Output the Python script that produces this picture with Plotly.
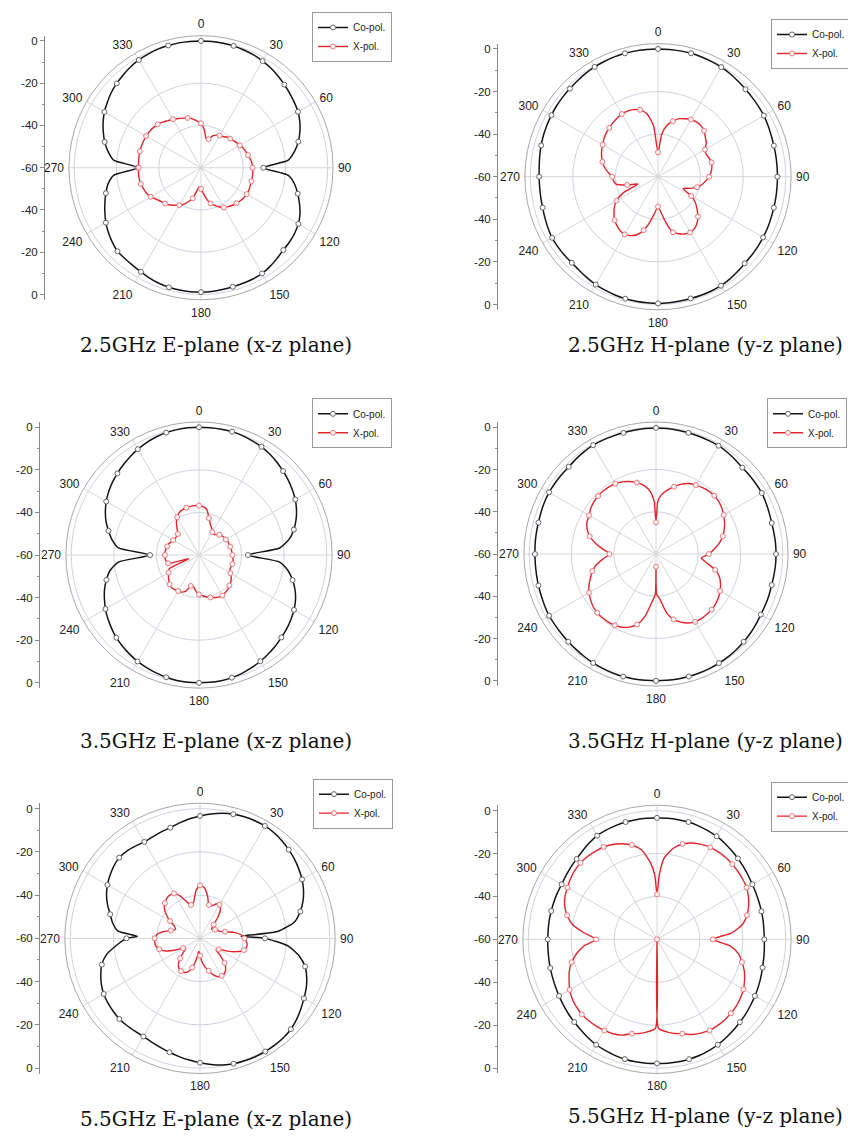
import plotly.graph_objects as go

W, H = 856, 1136

# ---------------- data (dB, sampled every 5 degrees, 0..355) ----------------
THETA = list(range(0, 360, 5))

co_25E = [0, -0.05, -0.15, -0.3, -0.7, -1.1, -1.7, -2.4, -3.3, -4.3,
          -5.2, -6.1, -7, -8.4, -10.2, -12.3, -15, -18.5, -30.5, -18.5,
          -15, -12.6, -10.4, -8.3, -6.8, -5.9, -5.3, -4.9, -4, -3,
          -2.2, -1.9, -1.8, -1.7, -1.5, -1.2, -1.1, -1.1, -1.2, -1.4,
          -1.8, -2.4, -3.1, -3.6, -3.9, -4.1, -5.2, -6.5, -8, -9.8,
          -11.6, -13.4, -15.3, -18.5, -30, -18.5, -15.3, -12.8, -10.8, -8.9,
          -7.2, -5.9, -4.6, -3.6, -2.7, -1.8, -1.1, -0.7, -0.3, -0.1,
          0, 0]
xp_25E = [-39, -42, -46, -46, -44, -43, -42.5, -42, -41, -40.5,
          -40, -39.3, -38.8, -38, -37.5, -37, -36.3, -35.8, -35.6, -35.4,
          -35.3, -35.3, -35.2, -35, -35, -35.3, -35.7, -36.2, -36.8, -37.5,
          -38.3, -39.5, -41, -42.5, -45, -48, -50, -51, -49, -45,
          -43, -41, -39.5, -38.3, -37, -36, -35.2, -34, -32.5, -31.5,
          -31, -30.5, -30.3, -30.3, -30.5, -30.3, -30.2, -30, -30, -30,
          -30, -30.2, -30.5, -31, -31.8, -32.8, -33.5, -34.3, -35, -35.6,
          -36.5, -37.8]

co_25H = [0, 0, 0, 0, -0.2, -0.4, -0.6, -1, -1.5, -1.9,
          -2.2, -2.4, -2.6, -3, -3.4, -3.7, -3.8, -3.9, -3.9, -3.9,
          -3.8, -3.7, -3.5, -3.2, -3, -2.8, -2.6, -2.4, -1.9, -1.3,
          -0.9, -0.8, -0.8, -0.8, -0.7, -0.6, -0.5, -0.6, -0.65, -0.7,
          -0.9, -1.2, -1.5, -2, -2.5, -2.8, -2.7, -2.6, -2.6, -3,
          -3.5, -3.9, -4.1, -4.2, -4.2, -4, -3.6, -3.2, -2.8, -2.5,
          -2.2, -1.9, -1.7, -1.5, -1.2, -0.8, -0.5, -0.3, -0.1, 0,
          0, 0]
xp_25H = [-48.5, -40, -35.5, -33, -31, -30, -29, -28.6, -28.7, -29.5,
          -31, -32.3, -34.5, -35, -34.5, -34, -34.3, -35, -36, -37.5,
          -39, -41, -44, -47, -42, -38.5, -36, -33.5, -31.5, -30.2,
          -29.8, -30.3, -31.5, -33, -38, -43, -46, -43, -38.5, -34,
          -31, -29.5, -28.7, -29, -30, -31.2, -33, -35, -37.5, -42,
          -50, -45, -40, -39, -38.5, -36.5, -34.5, -33, -31.8, -30.8,
          -30, -29, -28.2, -27.6, -27, -26.5, -26, -26, -26.5, -27.5,
          -30, -36]

co_35E = [0, 0, 0, 0, -0.3, -0.8, -1.3, -2.1, -3.1, -4.2,
          -5.3, -6.5, -7.8, -9.5, -11.5, -13.9, -17, -22, -37, -22,
          -17.5, -14.5, -12, -10, -8.5, -7.3, -6.2, -5.3, -4.2, -3.3,
          -2.4, -1.6, -0.9, -0.4, -0.1, 0, 0, 0, -0.2, -0.6,
          -1.1, -1.7, -2.3, -3.2, -4.1, -5.1, -6.4, -7.8, -9.3, -11,
          -12.8, -15, -17.5, -22, -37, -22, -18.5, -16, -13.5, -11.5,
          -9.7, -8.2, -6.9, -5.8, -4.7, -3.6, -2.6, -1.7, -1, -0.5,
          -0.2, 0]
xp_35E = [-36.8, -37.2, -38.5, -42, -44.5, -46, -47.5, -48, -47.5, -46.5,
          -46, -45.5, -45.5, -45, -45, -44.8, -44.6, -44.5, -44.3, -44,
          -43.8, -43.8, -44, -44, -43, -41.5, -40.5, -39.8, -39, -38.5,
          -38, -38.2, -38.8, -39.4, -40, -40.8, -41.5, -43, -45, -45,
          -42, -40.8, -40.5, -40.2, -40, -40.5, -41.5, -42.5, -43.5, -44.5,
          -55, -45, -44.3, -44, -44, -44, -44.2, -44.5, -44.7, -45.5,
          -46, -46.3, -46.3, -46, -44, -41.5, -39.5, -38, -37.3, -37,
          -36.8, -36.7]

co_35H = [-0.3, -0.4, -0.5, -0.6, -0.7, -0.8, -0.8, -1.2, -1.7, -2.2,
          -2.2, -2.2, -2.2, -2.6, -3, -3.3, -3.3, -3.2, -3.2, -3.2,
          -3.3, -3.3, -3.1, -2.9, -2.7, -2.2, -1.7, -1.3, -0.9, -0.6,
          -0.4, -0.2, -0.1, 0, 0, 0, 0, 0, 0, 0,
          -0.1, -0.3, -0.5, -0.8, -1.1, -1.3, -1.5, -1.6, -1.6, -1.9,
          -2.2, -2.4, -2.6, -2.7, -2.7, -2.6, -2.5, -2.4, -2.1, -1.8,
          -1.6, -1.6, -1.6, -1.6, -1.2, -0.8, -0.5, -0.5, -0.6, -0.6,
          -0.5, -0.4]
xp_35H = [-45, -32, -29.3, -27, -24.8, -23.2, -22.3, -21.6, -21.1, -21,
          -21.3, -22, -23, -24.2, -25.6, -27.3, -29.5, -32.3, -35, -38.5,
          -35.5, -31, -28, -26.3, -25, -24, -23.2, -22.8, -22.7, -22.7,
          -22.9, -24, -25.7, -28, -32, -38.5, -54, -37, -30, -25.5,
          -23.2, -21.8, -21, -20.7, -20.6, -20.7, -21.2, -22.2, -23.4, -25,
          -27, -28.8, -31.5, -35, -38, -35, -31, -27.5, -25.3, -24,
          -23.4, -22.3, -21.6, -21.2, -21.1, -21.2, -21.5, -22.3, -23.5, -25,
          -27, -30.5]
xp_35H_extra_theta = [2, 179, 181, 358]
xp_35H_extra_r = [-35, -41, -41, -35]

co_55E = [-3.4, -2.3, -1.3, -0.6, -0.2, 0, 0, -0.4, -1.1, -2,
          -3, -4.2, -5.5, -7.2, -9.3, -12, -15.5, -24, -30, -19,
          -13.5, -9.7, -7.5, -5.8, -4.5, -3.1, -1.7, -0.6, 0, 0.3,
          0.4, 0.4, 0.2, 0, -0.6, -1.5, -2.5, -3.5, -4.5, -5.5,
          -6.4, -7.1, -7.6, -7.6, -7.4, -7.3, -7.6, -8, -8.6, -9.7,
          -11.2, -13, -16, -21, -26, -22, -19, -17, -14.5, -12.3,
          -10.6, -9.2, -8, -7.2, -7.3, -7.9, -8.5, -8.2, -7.6, -7,
          -5.8, -4.5]
co_55E_extra_theta = [87, 272]
co_55E_extra_r = [-41, -31]
xp_55E = [-35.5, -36.5, -40, -44, -44, -42.5, -42, -43.5, -47, -51,
          -53, -53, -52, -51, -50.5, -48, -44, -41, -39.5, -38.3,
          -38, -39, -42, -46, -50, -51, -48, -44, -41.5, -40.3,
          -40, -40.5, -42, -44.5, -46.5, -49, -52, -54, -50, -46,
          -43.5, -42.6, -42.5, -43, -44.5, -47, -50, -52, -51, -47,
          -43, -40.5, -39.3, -39, -39, -40, -42.5, -46, -48, -47,
          -44, -41, -38.5, -37, -36, -35.6, -36, -38.5, -42, -44,
          -43, -38]

co_55H = [-3.4, -3.4, -3.4, -3.4, -3.7, -4.1, -4.5, -5.2, -6, -6.7,
          -7.4, -8.1, -8.7, -9.1, -9.4, -9.6, -9.8, -10, -10, -9.8,
          -9.5, -9.1, -8.5, -7.9, -7.3, -6.7, -6, -5.4, -4.7, -4,
          -3.3, -2.8, -2.4, -2.2, -2.1, -2.1, -2.2, -2.1, -2.1, -2.2,
          -2.5, -2.9, -3.3, -4, -4.8, -5.5, -6.1, -6.7, -7.3, -7.8,
          -8.2, -8.5, -8.8, -9, -9.1, -9.1, -9, -9, -8.9, -8.8,
          -8.7, -8.2, -7.6, -7, -6.1, -5.1, -4.2, -3.8, -3.6, -3.4,
          -3.4, -3.4]
xp_55H = [-39, -22, -17, -14, -12.2, -11.2, -10.5, -10.2, -10.2, -10.4,
          -10.8, -11.2, -11.8, -13, -14.6, -16.6, -19.5, -25, -34, -26,
          -21.5, -19, -16.7, -15, -13.5, -12.5, -11.7, -11.3, -11, -10.9,
          -11, -11.8, -12.8, -14.5, -15.5, -17, -60, -17, -15.5, -14.5,
          -12.5, -11.5, -11, -10.7, -10.5, -10.5, -11, -11.8, -13, -14.8,
          -16.5, -18.8, -22, -26, -31.6, -26, -20, -16.6, -14.2, -12.7,
          -11.8, -10.8, -10, -9.6, -9.6, -9.9, -10.3, -11.2, -12.6, -14.5,
          -17.5, -24]
xp_55H_extra_theta = [2, 179, 181, 358]
xp_55H_extra_r = [-30, -18.5, -18.5, -30]

ANGLE_TICKS = list(range(0, 360, 30))
ANGLE_TEXT = [str(a) for a in ANGLE_TICKS]
RADIAL_TICKVALS = [-60, -40, -20, 0, 20, 40, 60]
RADIAL_TICKTEXT = ["0", "-20", "-40", "-60", "-40", "-20", "0"]
SERIES_NAMES = ["Co-pol.", "X-pol."]
CAPTIONS = ["2.5GHz E-plane (x-z plane)", "2.5GHz H-plane (y-z plane)",
            "3.5GHz E-plane (x-z plane)", "3.5GHz H-plane (y-z plane)",
            "5.5GHz E-plane (x-z plane)", "5.5GHz H-plane (y-z plane)"]

R_MIN, R_MAX = -60, 2.5

# ---------------- layout geometry (pixels) ----------------
panels = [
    dict(co=co_25E, xp=xp_25E, cx=193, cy=159, R0=127, ax=37, leg=(304, 3), cap=(208, 337)),
    dict(co=co_25H, xp=xp_25H, cx=650, cy=168, R0=128, ax=490, leg=(763, 10), cap=(697, 337)),
    dict(co=co_35E, xp=xp_35E, cx=191, cy=547, R0=128, ax=32, leg=(304, 390), cap=(208, 733)),
    dict(co=co_35H, xp=xp_35H, cx=648, cy=546, R0=127, ax=490, leg=(759, 390), cap=(697, 733),
         xp_et=xp_35H_extra_theta, xp_er=xp_35H_extra_r),
    dict(co=co_55E, xp=xp_55E, cx=192, cy=931, R0=130, ax=32, leg=(305, 771), cap=(208, 1112),
         co_et=co_55E_extra_theta, co_er=co_55E_extra_r),
    dict(co=co_55H, xp=xp_55H, cx=649, cy=932, R0=129, ax=490, leg=(763, 774), cap=(697, 1109),
         xp_et=xp_55H_extra_theta, xp_er=xp_55H_extra_r),
]


def merged(base_r, et=(), er=()):
    pts = dict(zip(THETA, base_r))
    pts.update(zip(et, er))
    ts = sorted(pts)
    rs = [pts[t] for t in ts]
    return ts + [ts[0]], rs + [rs[0]]


CO_COLOR = "#151515"
XP_COLOR = "#e2242c"
FONT = "Liberation Sans, Arial, sans-serif"

fig = go.Figure()
layout = dict(width=W, height=H, margin=dict(l=0, r=0, t=0, b=0),
              paper_bgcolor="white", plot_bgcolor="white", showlegend=True)
annotations = []

for i, p in enumerate(panels):
    k = i + 1
    sub = "polar" if k == 1 else f"polar{k}"
    leg = "legend" if k == 1 else f"legend{k}"
    Ro = p["R0"] * (R_MAX - R_MIN) / 60.0
    cx, cy = p["cx"], p["cy"]

    # curves
    t, r = merged(p["co"], p.get("co_et", ()), p.get("co_er", ()))
    fig.add_trace(go.Scatterpolar(r=r, theta=t, mode="lines", subplot=sub,
                                  line=dict(color=CO_COLOR, width=1.5, shape="spline", smoothing=0.6),
                                  showlegend=False, hoverinfo="skip"))
    fig.add_trace(go.Scatterpolar(r=p["co"][::3], theta=THETA[::3], mode="markers", subplot=sub,
                                  marker=dict(symbol="circle", size=5, color="white",
                                              line=dict(color="#666", width=1)),
                                  showlegend=False, hoverinfo="skip"))
    t, r = merged(p["xp"], p.get("xp_et", ()), p.get("xp_er", ()))
    fig.add_trace(go.Scatterpolar(r=r, theta=t, mode="lines", subplot=sub,
                                  line=dict(color=XP_COLOR, width=1.4, shape="spline", smoothing=0.6),
                                  showlegend=False, hoverinfo="skip"))
    fig.add_trace(go.Scatterpolar(r=p["xp"][::3], theta=THETA[::3], mode="markers", subplot=sub,
                                  marker=dict(symbol="circle", size=5, color="#fff4f4",
                                              line=dict(color="#ea7a7f", width=1)),
                                  showlegend=False, hoverinfo="skip"))
    # legend entries
    fig.add_trace(go.Scatterpolar(r=[None], theta=[None], mode="lines+markers", subplot=sub,
                                  name=SERIES_NAMES[0], legend=leg,
                                  line=dict(color=CO_COLOR, width=1.5),
                                  marker=dict(symbol="circle", size=5, color="white",
                                              line=dict(color="#666", width=1))))
    fig.add_trace(go.Scatterpolar(r=[None], theta=[None], mode="lines+markers", subplot=sub,
                                  name=SERIES_NAMES[1], legend=leg,
                                  line=dict(color=XP_COLOR, width=1.4),
                                  marker=dict(symbol="circle", size=5, color="#fff4f4",
                                              line=dict(color="#ea7a7f", width=1))))

    layout[sub] = dict(
        domain=dict(x=[(cx - Ro) / W, (cx + Ro) / W],
                    y=[1 - (cy + Ro) / H, 1 - (cy - Ro) / H]),
        bgcolor="white",
        angularaxis=dict(rotation=90, direction="clockwise",
                         tickmode="array", tickvals=ANGLE_TICKS, ticktext=ANGLE_TEXT,
                         ticks="outside", ticklen=2, tickcolor="rgba(0,0,0,0)",
                         showline=True, linecolor="#a8a8a8", linewidth=1,
                         showgrid=True, gridcolor="#d6d6d6", gridwidth=1,
                         tickfont=dict(family=FONT, size=12, color="#222")),
        radialaxis=dict(range=[R_MIN, R_MAX], showticklabels=False, ticks="",
                        showline=False, tickmode="array", tickvals=[-40, -20, 0],
                        showgrid=True, gridcolor="#cdd3df", gridwidth=1),
    )

    layout[leg] = dict(x=p["leg"][0] / W, y=1 - p["leg"][1] / H, xanchor="left", yanchor="top",
                       bgcolor="white", bordercolor="#9a9a9a", borderwidth=1,
                       font=dict(family=FONT, size=10, color="#222"),
                       itemwidth=30, tracegroupgap=0, traceorder="normal")

    # left radial scale (cartesian axis)
    xa = "xaxis" if k == 1 else f"xaxis{k}"
    ya = "yaxis" if k == 1 else f"yaxis{k}"
    xr = "x" if k == 1 else f"x{k}"
    yr = "y" if k == 1 else f"y{k}"
    fig.add_trace(go.Scatter(x=[None], y=[None], xaxis=xr, yaxis=yr,
                             showlegend=False, hoverinfo="skip"))
    layout[xa] = dict(domain=[p["ax"] / W, p["ax"] / W + 0.002], anchor=yr, visible=False,
                      range=[0, 1])
    layout[ya] = dict(domain=[1 - (cy + Ro) / H, 1 - (cy - Ro) / H], anchor=xr,
                      range=[-(R_MAX - R_MIN), (R_MAX - R_MIN)],
                      tickmode="array", tickvals=RADIAL_TICKVALS, ticktext=RADIAL_TICKTEXT,
                      ticks="outside", ticklen=4, tickcolor="#8a8a8a",
                      showline=True, linecolor="#8a8a8a", linewidth=1,
                      showgrid=False, zeroline=False,
                      tickfont=dict(family=FONT, size=11.5, color="#222"),
                      minor=dict(tickmode="array", tickvals=[-50, -30, -10, 10, 30, 50],
                                 ticks="outside", ticklen=2, tickcolor="#8a8a8a", showgrid=False))

    annotations.append(dict(text=CAPTIONS[i], x=p["cap"][0] / W, y=1 - p["cap"][1] / H,
                            xref="paper", yref="paper", xanchor="center", yanchor="middle",
                            showarrow=False,
                            font=dict(family="DejaVu Serif, serif", size=20, color="#111")))

layout["annotations"] = annotations
fig.update_layout(**layout)
fig.write_html("out.html")
